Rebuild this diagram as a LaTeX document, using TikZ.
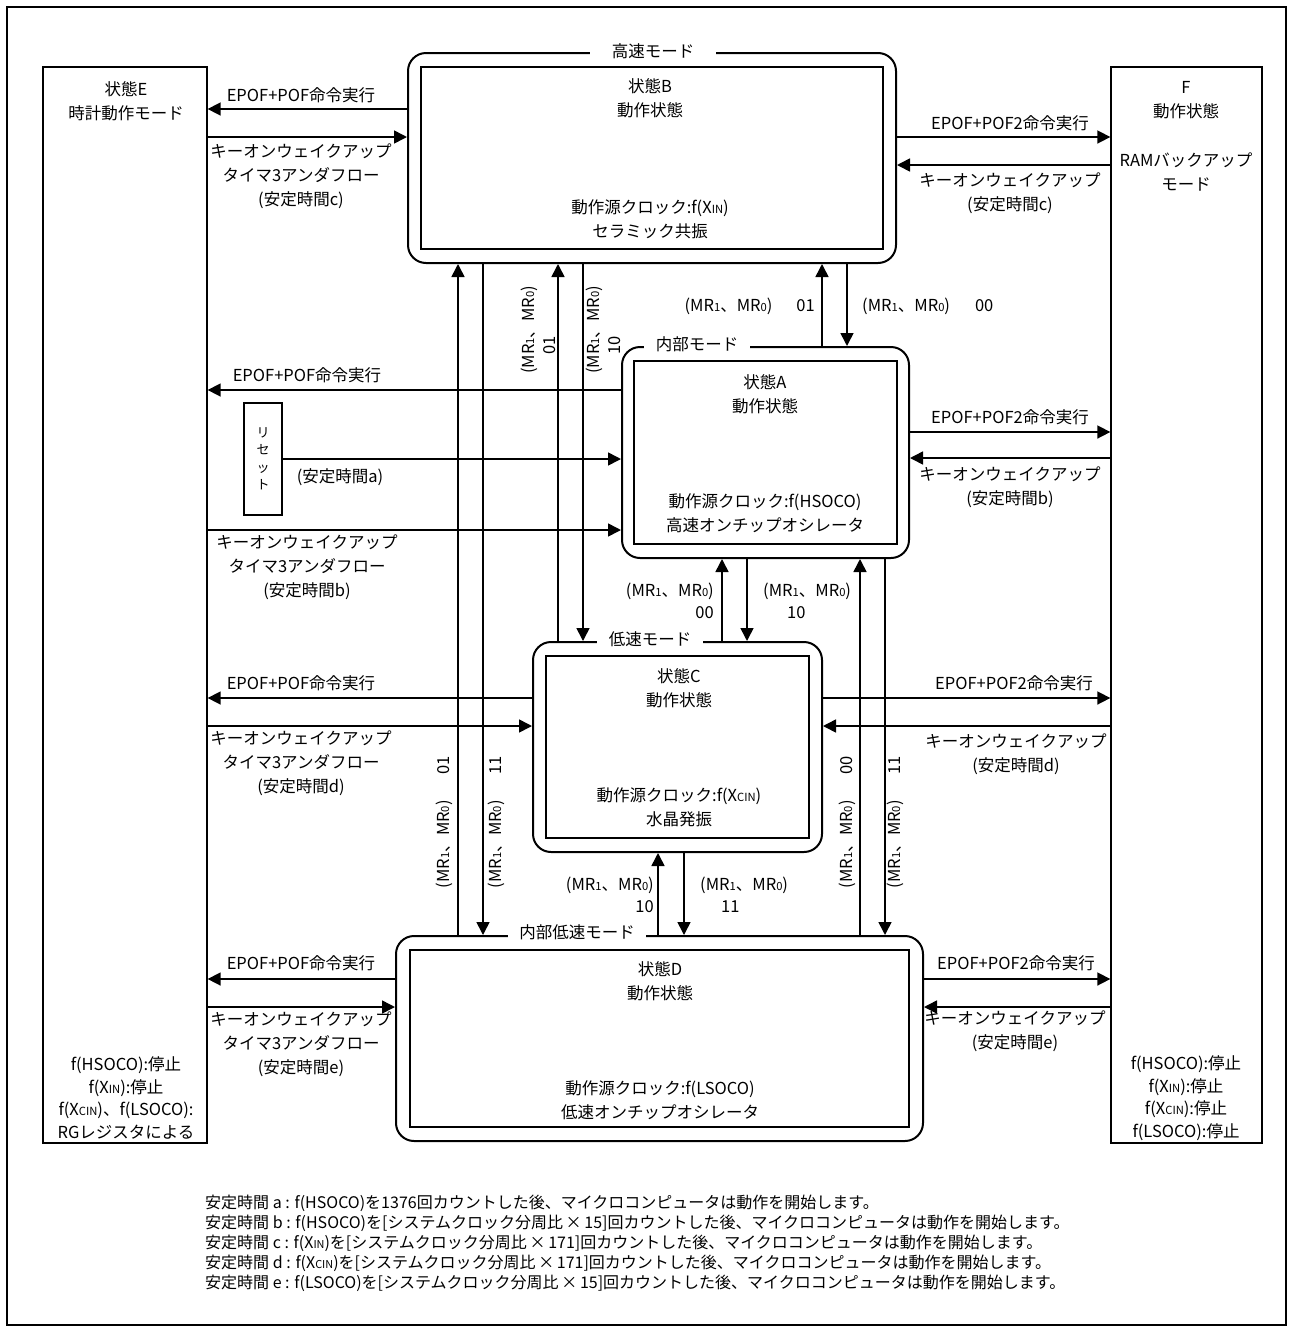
\documentclass[tikz,border=0pt]{standalone}
\usepackage{fontspec}
\setmainfont{Noto Sans CJK JP}
\usetikzlibrary{arrows.meta}
\newcommand\lo[1]{\scalebox{0.68}{#1}}
\begin{document}
\begin{tikzpicture}[x=1pt,y=-1pt,
  every node/.style={font=\fontsize{16.5}{24}\selectfont, inner sep=0pt},
  arr/.style={line width=1.6pt,-{Triangle[length=13pt,width=13pt]}},
  sbox/.style={draw, line width=1.3pt},
  obox/.style={draw, line width=2pt, rounded corners=18pt},
  ibox/.style={draw, line width=1.8pt},
  txt/.style={align=center},
  txtb/.style={align=center, font=\fontsize{16.5}{22.5}\selectfont},
  mode/.style={fill=white, inner xsep=12pt, inner ysep=2pt},
  mrv/.style={rotate=90, align=center, font=\fontsize{16.5}{21}\selectfont},
  mrh/.style={font=\fontsize{16.5}{22}\selectfont},
  note/.style={font=\fontsize{16}{20}\selectfont, align=left, anchor=west}
]
\useasboundingbox (0,0) rectangle (1292,1331);
\fill[white] (0,0) rectangle (1292,1331);
\node[draw, line width=2.2pt, minimum width=1279, minimum height=1318] (frame) at (646.5,666) {};

% boxes
\node[sbox, minimum width=164, minimum height=1076] (E) at (125,605) {};
\node[sbox, minimum width=151, minimum height=1076] (F) at (1186.5,605) {};
\node[obox, minimum width=488, minimum height=210] (Bo) at (652,158) {};
\node[ibox, minimum width=462, minimum height=182] (Bi) at (652,158) {};
\node[obox, minimum width=287, minimum height=211] (Ao) at (765.5,452.5) {};
\node[ibox, minimum width=263, minimum height=183] (Ai) at (765.5,452.5) {};
\node[obox, minimum width=289, minimum height=210] (Co) at (677.5,747) {};
\node[ibox, minimum width=263, minimum height=182] (Ci) at (677.5,747) {};
\node[obox, minimum width=527, minimum height=205] (Do) at (659.5,1038.5) {};
\node[ibox, minimum width=499, minimum height=177] (Di) at (659.5,1038.5) {};
\node[sbox, minimum width=38, minimum height=112] (R) at (263,459) {};
\node[align=center, font=\fontsize{13}{17.5}\selectfont] (Rt) at (R) {リ\\セ\\ッ\\ト};

% mode labels
\node[mode, inner xsep=22pt] (Bl) at (653,51) {高速モード};
\node[mode] (Al) at (697,344) {内部モード};
\node[mode] (Cl) at (650,639) {低速モード};
\node[mode, inner xsep=11pt] (Dl) at (577,932) {内部低速モード};

% box texts
\node[txt] (Et) at (126,101) {状態E\\時計動作モード};
\node[txtb] (Eb) at (126,1098) {f(HSOCO):停止\\f(X\lo{IN}):停止\\f(X\lo{CIN})、f(LSOCO):\\RGレジスタによる};
\node[txt] (Ft) at (1186,100) {F\\動作状態};
\node[txt] (Ft2) at (1186,171.5) {RAMバックアップ\\モード};
\node[txtb] (Fb) at (1186,1098) {f(HSOCO):停止\\f(X\lo{IN}):停止\\f(X\lo{CIN}):停止\\f(LSOCO):停止};
\node[txt] (Bt) at (650,98.5) {状態B\\動作状態};
\node[txt] (Bc) at (650,219) {動作源クロック:f(X\lo{IN})\\セラミック共振};
\node[txt] (At) at (765,394.5) {状態A\\動作状態};
\node[txt] (Ac) at (765,513.5) {動作源クロック:f(HSOCO)\\高速オンチップオシレータ};
\node[txt] (Ct) at (679,688.5) {状態C\\動作状態};
\node[txt] (Cc) at (679,807.5) {動作源クロック:f(X\lo{CIN})\\水晶発振};
\node[txt] (Dt) at (660,981) {状態D\\動作状態};
\node[txt] (Dc) at (660,1100) {動作源クロック:f(LSOCO)\\低速オンチップオシレータ};

% horizontal arrows, B level
\draw[arr] (Bo.west |- 0,109) -- (E.east |- 0,109);
\node (l1) at (301,95) {EPOF+POF命令実行};
\draw[arr] (E.east |- 0,137) -- (Bo.west |- 0,137);
\node[txt] (l2) at (301,176) {キーオンウェイクアップ\\タイマ3アンダフロー\\(安定時間c)};
\draw[arr] (Bo.east |- 0,137) -- (F.west |- 0,137);
\node (l3) at (1010,123) {EPOF+POF2命令実行};
\draw[arr] (F.west |- 0,165) -- (Bo.east |- 0,165);
\node[txt] (l4) at (1010,193.5) {キーオンウェイクアップ\\(安定時間c)};

% A level
\draw[arr] (Ao.west |- 0,390) -- (E.east |- 0,390);
\node (l5) at (307,375) {EPOF+POF命令実行};
\draw[arr] (R.east) -- (Ao.west |- R.east);
\node (l6) at (340,477) {(安定時間a)};
\draw[arr] (E.east |- 0,530) -- (Ao.west |- 0,530);
\node[txt] (l7) at (307,567) {キーオンウェイクアップ\\タイマ3アンダフロー\\(安定時間b)};
\draw[arr] (Ao.east |- 0,432) -- (F.west |- 0,432);
\node (l8) at (1010,417) {EPOF+POF2命令実行};
\draw[arr] (F.west |- 0,458) -- (Ao.east |- 0,458);
\node[txt] (l9) at (1010,487.5) {キーオンウェイクアップ\\(安定時間b)};

% C level
\draw[arr] (Co.west |- 0,698) -- (E.east |- 0,698);
\node (l10) at (301,683) {EPOF+POF命令実行};
\draw[arr] (E.east |- 0,726) -- (Co.west |- 0,726);
\node[txt] (l11) at (301,763) {キーオンウェイクアップ\\タイマ3アンダフロー\\(安定時間d)};
\draw[arr] (Co.east |- 0,698) -- (F.west |- 0,698);
\node (l12) at (1014,683) {EPOF+POF2命令実行};
\draw[arr] (F.west |- 0,726) -- (Co.east |- 0,726);
\node[txt] (l13) at (1016,754.5) {キーオンウェイクアップ\\(安定時間d)};

% D level
\draw[arr] (Do.west |- 0,979) -- (E.east |- 0,979);
\node (l14) at (301,963) {EPOF+POF命令実行};
\draw[arr] (E.east |- 0,1007) -- (Do.west |- 0,1007);
\node[txt] (l15) at (301,1044) {キーオンウェイクアップ\\タイマ3アンダフロー\\(安定時間e)};
\draw[arr] (Do.east |- 0,979) -- (F.west |- 0,979);
\node (l16) at (1016,963) {EPOF+POF2命令実行};
\draw[arr] (F.west |- 0,1007) -- (Do.east |- 0,1007);
\node[txt] (l17) at (1015,1031) {キーオンウェイクアップ\\(安定時間e)};

% vertical arrows
\draw[arr] (Do.north -| 458,0) -- (Bo.south -| 458,0);
\draw[arr] (Bo.south -| 483,0) -- (Do.north -| 483,0);
\draw[arr] (Co.north -| 558,0) -- (Bo.south -| 558,0);
\draw[arr] (Bo.south -| 583,0) -- (Co.north -| 583,0);
\draw[arr] (Ao.north -| 822,0) -- (Bo.south -| 822,0);
\draw[arr] (Bo.south -| 847,0) -- (Ao.north -| 847,0);
\draw[arr] (Co.north -| 722,0) -- (Ao.south -| 722,0);
\draw[arr] (Ao.south -| 747,0) -- (Co.north -| 747,0);
\draw[arr] (Do.north -| 860,0) -- (Ao.south -| 860,0);
\draw[arr] (Ao.south -| 885,0) -- (Do.north -| 885,0);
\draw[arr] (Do.north -| 658,0) -- (Co.south -| 658,0);
\draw[arr] (Co.south -| 684,0) -- (Do.north -| 684,0);

% MR labels
\node[mrv] (m1) at (538,330) {(MR\lo{1}、MR\lo{0})\\01\hspace*{30pt}};
\node[mrv] (m2) at (603,330) {(MR\lo{1}、MR\lo{0})\\10\hspace*{30pt}};
\node[mrv] (m3) at (444,822) {(MR\lo{1}、MR\lo{0})\hspace{26pt}01};
\node[mrv] (m4) at (496,822) {(MR\lo{1}、MR\lo{0})\hspace{26pt}11};
\node[mrv] (m5) at (847,822) {(MR\lo{1}、MR\lo{0})\hspace{26pt}00};
\node[mrv] (m6) at (895,822) {(MR\lo{1}、MR\lo{0})\hspace{26pt}11};
\node[mrh, anchor=east] (h1) at (815,306) {(MR\lo{1}、MR\lo{0})\hspace{24pt}01};
\node[mrh, anchor=west] (h2) at (862,306) {(MR\lo{1}、MR\lo{0})\hspace{25pt}00};
\node[mrh, anchor=east, align=right] (h3) at (714,601) {(MR\lo{1}、MR\lo{0})\\00};
\node[mrh, anchor=west, align=left] (h4) at (763,601) {(MR\lo{1}、MR\lo{0})\\\hspace*{24pt}10};
\node[mrh, anchor=east, align=right] (h5) at (654,895) {(MR\lo{1}、MR\lo{0})\\10};
\node[mrh, anchor=west, align=left] (h6) at (700,895) {(MR\lo{1}、MR\lo{0})\\\hspace*{21pt}11};

% notes
\node[note] (notes) at (205,1243) {安定時間 a : f(HSOCO)を1376回カウントした後、マイクロコンピュータは動作を開始します。\\
安定時間 b : f(HSOCO)を[システムクロック分周比\,×\,15]回カウントした後、マイクロコンピュータは動作を開始します。\\
安定時間 c : f(X\lo{IN})を[システムクロック分周比\,×\,171]回カウントした後、マイクロコンピュータは動作を開始します。\\
安定時間 d : f(X\lo{CIN})を[システムクロック分周比\,×\,171]回カウントした後、マイクロコンピュータは動作を開始します。\\
安定時間 e : f(LSOCO)を[システムクロック分周比\,×\,15]回カウントした後、マイクロコンピュータは動作を開始します。};
\end{tikzpicture}
\end{document}
